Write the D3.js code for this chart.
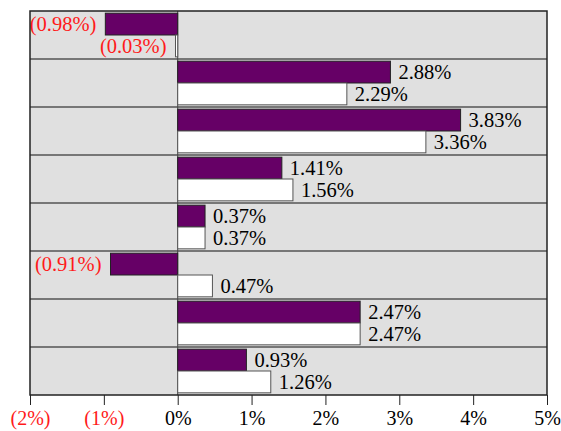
<!DOCTYPE html>
<html><head><meta charset="utf-8">
<script src="https://cdn.jsdelivr.net/npm/d3@7"></script>
<style>body{margin:0;background:#fff}svg{display:block}text{font-family:"Liberation Serif","Times New Roman",serif}</style>
</head><body><svg id="c" width="561" height="431"></svg>
<script>
const categories = ["G1","G2","G3","G4","G5","G6","G7","G8"];
const seriesA = [-0.98, 2.88, 3.83, 1.41, 0.37, -0.91, 2.47, 0.93];
const seriesB = [-0.03, 2.29, 3.36, 1.56, 0.37, 0.47, 2.47, 1.26];
const tickValues = [-2, -1, 0, 1, 2, 3, 4, 5];

const svg = d3.select("#c");
const L = 30, R = 547, T = 11, B = 395;
const x = d3.scaleLinear().domain([-2, 5]).range([L, R]);
const y = d3.scaleBand().domain(categories).range([T, B]);
const inner = d3.scaleBand().domain(["a","b"]).range([0, y.bandwidth()]).paddingOuter(0.1).paddingInner(0);

svg.append("rect").attr("x", L).attr("y", T).attr("width", R - L).attr("height", B - T).attr("fill", "#e0e0e0");
svg.selectAll("line.sep").data(categories.slice(1)).join("line")
  .attr("x1", L).attr("x2", R).attr("y1", d => y(d)).attr("y2", d => y(d))
  .attr("stroke", "#555").attr("stroke-width", 1.3);
svg.append("line").attr("x1", x(0)).attr("x2", x(0)).attr("y1", T).attr("y2", B).attr("stroke", "#444").attr("stroke-width", 1);

const fmt = v => v < 0 ? "(" + Math.abs(v).toFixed(2) + "%)" : v.toFixed(2) + "%";
const rows = [];
categories.forEach((c, i) => {
  rows.push({c, k: "a", v: seriesA[i]});
  rows.push({c, k: "b", v: seriesB[i]});
});
svg.selectAll("rect.bar").data(rows).join("rect")
  .attr("x", d => x(Math.min(0, d.v)))
  .attr("width", d => Math.max(1.5, Math.abs(x(d.v) - x(0))))
  .attr("y", d => y(d.c) + inner(d.k))
  .attr("height", inner.bandwidth())
  .attr("fill", d => d.k === "a" ? "#660066" : "#ffffff")
  .attr("stroke", d => d.k === "a" ? "#222" : "#555")
  .attr("stroke-width", 1);
svg.selectAll("text.lab").data(rows).join("text")
  .attr("x", d => d.v < 0 ? x(d.v) - 9 : x(d.v) + 8)
  .attr("y", d => y(d.c) + inner(d.k) + inner.bandwidth() / 2)
  .attr("dy", "0.36em")
  .attr("text-anchor", d => d.v < 0 ? "end" : "start")
  .attr("font-size", 20.5)
  .attr("fill", d => d.v < 0 ? "#ff1a1a" : "#000")
  .text(d => fmt(d.v));

svg.append("rect").attr("x", L).attr("y", T).attr("width", R - L).attr("height", B - T).attr("fill", "none").attr("stroke", "#222").attr("stroke-width", 1.5);

const axis = d3.axisBottom(x).tickValues(tickValues).tickSize(10).tickPadding(6)
  .tickFormat(v => v < 0 ? "(" + Math.abs(v) + "%)" : v + "%");
const g = svg.append("g").attr("transform", `translate(0,${B})`).call(axis);
g.select(".domain").remove();
g.selectAll("line").attr("stroke", "#222");
g.selectAll("text").attr("font-size", 20).attr("fill", d => d < 0 ? "#ff1a1a" : "#000");
</script></body></html>
